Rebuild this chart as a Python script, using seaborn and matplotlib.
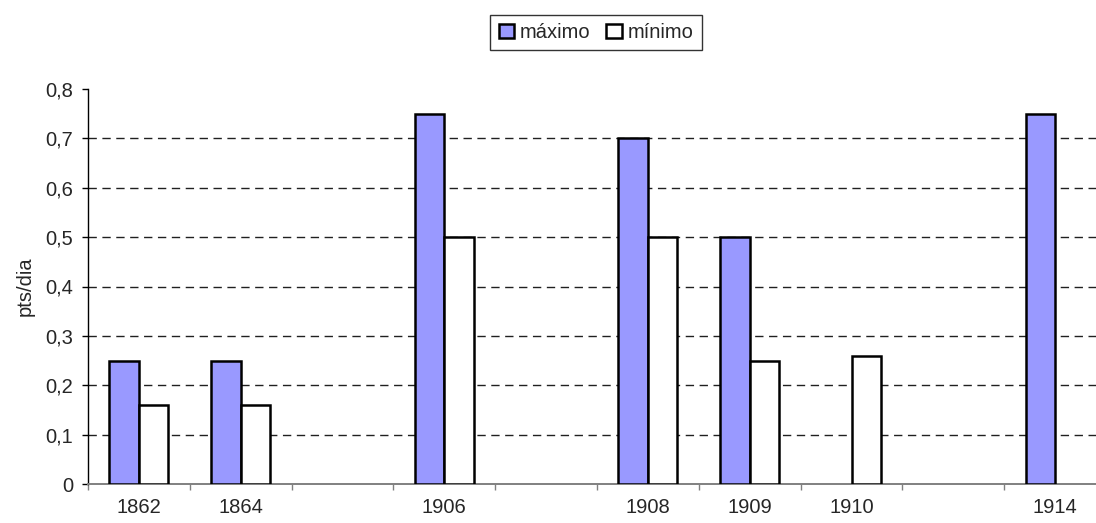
import matplotlib

matplotlib.use("Agg")
import matplotlib.pyplot as plt
import numpy as np
import pandas as pd
import seaborn as sns
from matplotlib.patches import Patch


# categorias do eixo x (as vazias são espaços sem dados)
YEARS = ["1862", "1864", "", "1906", "", "1908", "1909", "1910", "", "1914"]
MAXIMO = [0.25, 0.25, None, 0.75, None, 0.70, 0.50, None, None, 0.75]
MINIMO = [0.16, 0.16, None, 0.50, None, 0.50, 0.25, 0.26, None, None]

SERIES_NAMES = ["máximo", "mínimo"]
SERIES_COLORS = ["#9999FF", "#FFFFFF"]

Y_TICKS = [0, 0.1, 0.2, 0.3, 0.4, 0.5, 0.6, 0.7, 0.8]
Y_LABEL = "pts/dia"

FONT_SIZE = 14.5


def build_dataframe():
    keys = [f"c{i}" for i in range(len(YEARS))]
    rows = []
    for key, vmax, vmin in zip(keys, MAXIMO, MINIMO):
        if vmax is not None:
            rows.append({"cat": key, "serie": SERIES_NAMES[0], "valor": vmax})
        if vmin is not None:
            rows.append({"cat": key, "serie": SERIES_NAMES[1], "valor": vmin})
    return pd.DataFrame(rows), keys


def main():
    sns.set_theme(style="white")
    plt.rcParams["font.family"] = ["Liberation Sans", "DejaVu Sans"]

    df, keys = build_dataframe()

    fig = plt.figure(figsize=(10.96, 5.23), dpi=100)
    ax = fig.add_axes([88 / 1096, 39 / 523, (1106 - 88) / 1096, (484 - 89) / 523])

    sns.barplot(
        data=df,
        x="cat",
        y="valor",
        hue="serie",
        order=keys,
        hue_order=SERIES_NAMES,
        palette=SERIES_COLORS,
        saturation=1,
        width=0.58,
        edgecolor="black",
        linewidth=1.8,
        errorbar=None,
        legend=False,
        ax=ax,
        zorder=3,
    )

    ax.set_xlim(-0.5, len(YEARS) - 0.5)
    ax.set_ylim(0, 0.8)
    ax.set_yticks(Y_TICKS)
    ax.set_yticklabels([f"{t:.1f}".replace(".", ",") if t else "0" for t in Y_TICKS])
    ax.set_xticks(range(len(YEARS)))
    ax.set_xticklabels(YEARS)
    ax.set_xticks(np.arange(-0.5, len(YEARS)), minor=True)
    ax.tick_params(axis="x", which="major", length=0, pad=10, labelsize=FONT_SIZE)
    ax.tick_params(axis="x", which="minor", length=4.5, width=1, color="#808080",
                   direction="out", bottom=True)
    ax.tick_params(axis="y", length=4.5, width=1, color="black", direction="out",
                   left=True, pad=6, labelsize=FONT_SIZE)
    ax.set_xlabel("")
    ax.set_ylabel(Y_LABEL, fontsize=FONT_SIZE, labelpad=8)

    for y in Y_TICKS[1:-1]:
        ax.axhline(y, color="#202020", linewidth=1, linestyle=(0, (6, 4)), zorder=1)

    sns.despine(ax=ax, top=True, right=True)
    ax.spines["left"].set_color("black")
    ax.spines["left"].set_linewidth(1)
    ax.spines["bottom"].set_color("#808080")
    ax.spines["bottom"].set_linewidth(1.4)

    handles = [
        Patch(facecolor=c, edgecolor="black", linewidth=1.8) for c in SERIES_COLORS
    ]
    leg = fig.legend(
        handles,
        SERIES_NAMES,
        loc="upper center",
        bbox_to_anchor=(596 / 1096, 1 - 15 / 523),
        ncol=2,
        frameon=True,
        fancybox=False,
        fontsize=FONT_SIZE,
        handlelength=0.75,
        handleheight=0.75,
        handletextpad=0.3,
        columnspacing=0.8,
        borderpad=0.4,
        borderaxespad=0,
    )
    leg.get_frame().set_edgecolor("black")
    leg.get_frame().set_linewidth(1)

    fig.savefig("out.png", dpi=100)
    plt.close(fig)


if __name__ == "__main__":
    main()
